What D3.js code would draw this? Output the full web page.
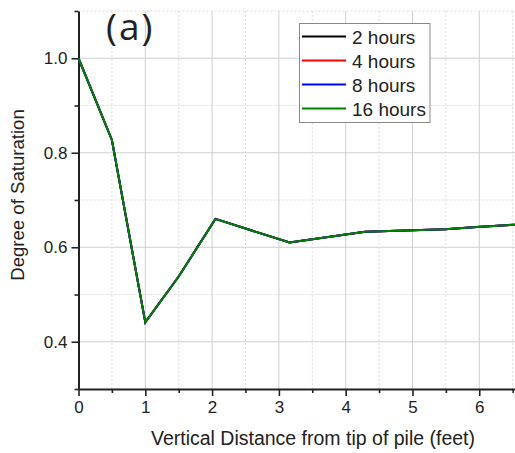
<!DOCTYPE html>
<html><head><meta charset="utf-8">
<script src="https://cdn.jsdelivr.net/npm/d3@7"></script>
<style>body{margin:0;background:#fff}svg{display:block}text{font-family:"Liberation Sans",Arial,sans-serif;fill:#222}</style>
</head><body><svg id="c" width="515" height="453"></svg>
<script>
const distance = [0, 0.5, 1.0, 1.5, 2.05, 3.16, 4.29, 5.49, 5.96, 6.55];
const sat2h  = [1.0, 0.827, 0.441, 0.538, 0.660, 0.610, 0.633, 0.638, 0.643, 0.648];
const sat4h  = [1.0, 0.827, 0.441, 0.538, 0.660, 0.610, 0.633, 0.638, 0.643, 0.648];
const sat8h  = [1.0, 0.827, 0.441, 0.538, 0.660, 0.610, 0.633, 0.638, 0.643, 0.648];
const sat16h = [1.0, 0.827, 0.441, 0.538, 0.660, 0.610, 0.633, 0.638, 0.643, 0.648];
const seriesNames = ["2 hours", "4 hours", "8 hours", "16 hours"];
const seriesColors = ["#000000", "#ff0000", "#0000ff", "#008000"];
const xTicks = [0, 1, 2, 3, 4, 5, 6];
const xMinor = [0.5, 1.5, 2.5, 3.5, 4.5, 5.5, 6.5];
const yTicks = [0.4, 0.6, 0.8, 1.0];
const yMinor = [0.3, 0.5, 0.7, 0.9, 1.1];

const svg = d3.select("#c");
const x = d3.scaleLinear().domain([0, 6.535]).range([78.5, 515]);
const y = d3.scaleLinear().domain([0.3, 1.1]).range([389, 11]);

// grid
const g = svg.append("g");
g.selectAll(".gmx").data(xMinor).join("line")
  .attr("x1", d => x(d)).attr("x2", d => x(d)).attr("y1", y(0.3)).attr("y2", y(1.1))
  .attr("stroke", "#dcdcdc").attr("stroke-dasharray", "2,2").attr("stroke-width", 1);
g.selectAll(".gmy").data(yMinor).join("line")
  .attr("x1", x(0)).attr("x2", 515).attr("y1", d => y(d)).attr("y2", d => y(d))
  .attr("stroke", "#dcdcdc").attr("stroke-dasharray", "2,2").attr("stroke-width", 1);
g.selectAll(".gx").data(xTicks.filter(d => d > 0)).join("line")
  .attr("x1", d => x(d)).attr("x2", d => x(d)).attr("y1", y(0.3)).attr("y2", y(1.1))
  .attr("stroke", "#cfcfcf").attr("stroke-width", 1);
g.selectAll(".gy").data(yTicks).join("line")
  .attr("x1", x(0)).attr("x2", 515).attr("y1", d => y(d)).attr("y2", d => y(d))
  .attr("stroke", "#cfcfcf").attr("stroke-width", 1);

// axes
const xAxis = d3.axisBottom(x).tickValues(xTicks).tickFormat(d3.format("d")).tickSizeInner(7).tickSizeOuter(0).tickPadding(5);
svg.append("g").attr("transform", `translate(0,${y(0.3)})`).call(xAxis);
const xMin = d3.axisBottom(x).tickValues(xMinor).tickFormat("").tickSizeInner(4).tickSizeOuter(0);
svg.append("g").attr("transform", `translate(0,${y(0.3)})`).call(xMin).select(".domain").remove();
const yAxis = d3.axisLeft(y).tickValues(yTicks).tickFormat(d3.format(".1f")).tickSizeInner(7).tickSizeOuter(0).tickPadding(4);
svg.append("g").attr("transform", `translate(${x(0)},0)`).call(yAxis);
const yMin = d3.axisLeft(y).tickValues(yMinor).tickFormat("").tickSizeInner(4).tickSizeOuter(0);
svg.append("g").attr("transform", `translate(${x(0)},0)`).call(yMin).select(".domain").remove();
svg.selectAll(".domain").attr("stroke", "#222").attr("stroke-width", 2);
svg.selectAll(".tick line").attr("stroke", "#222").attr("stroke-width", 1.6);
svg.selectAll(".tick text").style("font-size", "17px").attr("fill", "#222");

// lines
const line = d3.line().x((d, i) => x(distance[i])).y(d => y(d));
[sat2h, sat4h, sat8h, sat16h].forEach((s, k) => {
  svg.append("path").datum(s).attr("d", line).attr("fill", "none")
    .attr("stroke", seriesColors[k]).attr("stroke-width", 2);
});

// legend
const lg = svg.append("g");
lg.append("rect").attr("x", 299.5).attr("y", 23.5).attr("width", 130.5).attr("height", 99)
  .attr("fill", "#fff").attr("stroke", "#888").attr("stroke-width", 1);
seriesNames.forEach((n, i) => {
  const yy = 36.5 + i * 24;
  lg.append("line").attr("x1", 302).attr("x2", 346).attr("y1", yy).attr("y2", yy)
    .attr("stroke", seriesColors[i]).attr("stroke-width", 2);
  lg.append("text").attr("x", 352).attr("y", yy + 7).style("font-size", "19px").text(n);
});

// labels
svg.append("text").attr("x", 106).attr("y", 40).style("font-size", "37px")
  .style("letter-spacing", "2px")
  .style("font-family", "'Open Sans', sans-serif").text("(a)");
svg.append("text").attr("transform", "translate(24,195) rotate(-90)").attr("text-anchor", "middle")
  .style("font-size", "18.6px").text("Degree of Saturation");
svg.append("text").attr("x", 313).attr("y", 445).attr("text-anchor", "middle")
  .style("font-size", "19.5px").text("Vertical Distance from tip of pile (feet)");
</script></body></html>
